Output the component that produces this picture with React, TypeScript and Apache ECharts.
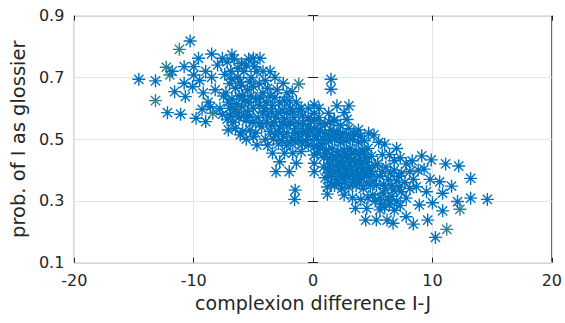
import React, { useEffect, useRef } from "react";
import * as echarts from "echarts";

const xTicks = [-20, -10, 0, 10, 20];
const yTicks = [0.1, 0.3, 0.5, 0.7, 0.9];

// complexion difference I-J vs prob. of I as glossier
const bluePoints: [number, number][] = [
  [-14.6, 0.694], [-13.2, 0.689], [-12.2, 0.586], [-11.1, 0.581], [-11.6, 0.654],
  [-10.8, 0.735], [-10.0, 0.735], [-9.6, 0.762], [-8.5, 0.776], [-10.8, 0.681],
  [-10.7, 0.638], [-9.8, 0.568], [-9.3, 0.597], [-9.0, 0.557], [-10.0, 0.708],
  [-10.1, 0.67], [-7.1, 0.53], [-6.1, 0.514], [-7.6, 0.762], [-6.8, 0.773],
  [-10.3, 0.818], [-11.8, 0.72], [-9.5, 0.69], [-9.2, 0.65], [-8.8, 0.62],
  [-9.0, 0.72], [-8.5, 0.70], [-8.0, 0.74], [-8.2, 0.66], [-7.8, 0.60],
  [-7.5, 0.64], [-8.6, 0.605],
  [-7.2, 0.75], [-6.6, 0.76], [-6.0, 0.745], [-5.4, 0.76], [-5.0, 0.762],
  [-4.45, 0.762], [-7.4, 0.71], [-6.9, 0.72], [-6.3, 0.70], [-5.8, 0.72],
  [-5.2, 0.70], [-4.7, 0.719], [-7.0, 0.68], [-6.5, 0.665], [-6.0, 0.675],
  [-5.5, 0.66], [-5.0, 0.67], [-7.3, 0.65], [-6.8, 0.63], [-6.2, 0.64],
  [-5.7, 0.625], [-5.2, 0.64], [-4.8, 0.63], [-7.6, 0.58], [-7.0, 0.60],
  [-6.6, 0.595], [-6.0, 0.605], [-5.5, 0.59], [-5.0, 0.60], [-4.5, 0.61],
  [-7.2, 0.565], [-6.7, 0.555], [-6.2, 0.57], [-5.6, 0.56], [-5.1, 0.555],
  [-4.6, 0.57], [-6.5, 0.535], [-5.9, 0.525], [-5.3, 0.53], [-4.8, 0.52],
  [-4.3, 0.54], [-5.6, 0.50], [-5.0, 0.508], [-4.7, 0.481], [-3.8, 0.481],
  [-4.0, 0.50],
  [-6.3, 0.73], [-5.6, 0.74], [-4.9, 0.735], [-4.2, 0.72], [-6.8, 0.695],
  [-6.1, 0.685], [-5.3, 0.685], [-4.5, 0.68], [-3.8, 0.665], [-7.1, 0.62],
  [-6.4, 0.615], [-5.9, 0.64], [-5.4, 0.62], [-4.4, 0.635], [-3.9, 0.62],
  [-3.2, 0.635], [-2.4, 0.625], [-6.9, 0.575], [-6.3, 0.585], [-5.8, 0.575],
  [-5.3, 0.575], [-4.2, 0.585], [-3.5, 0.59], [-2.9, 0.585], [-2.2, 0.585],
  [-1.7, 0.59], [-1.0, 0.60], [-4.5, 0.55], [-3.9, 0.555], [-3.3, 0.555],
  [-2.5, 0.555], [-1.9, 0.555], [-1.2, 0.55], [-0.2, 0.56], [-3.6, 0.525],
  [-2.9, 0.525], [-2.2, 0.52], [-1.5, 0.52], [-0.9, 0.525], [-0.2, 0.53],
  [-3.3, 0.50], [-2.6, 0.495], [-1.9, 0.49], [-1.2, 0.50], [-0.6, 0.495],
  [-3.6, 0.719], [-2.5, 0.681], [-1.75, 0.654], [-4.0, 0.69], [-3.2, 0.70],
  [-3.0, 0.66], [-2.2, 0.65], [-4.2, 0.65], [-3.6, 0.64], [-2.8, 0.62],
  [-2.0, 0.625], [-1.4, 0.62], [-4.1, 0.60], [-3.4, 0.61], [-2.6, 0.595],
  [-1.9, 0.60], [-1.2, 0.595], [-3.8, 0.575], [-3.1, 0.57], [-2.4, 0.565],
  [-1.6, 0.57], [-0.9, 0.575], [-3.5, 0.545], [-2.8, 0.54], [-2.1, 0.545],
  [-1.5, 0.535], [-0.8, 0.55], [-3.2, 0.515], [-2.5, 0.51], [-1.8, 0.505],
  [-1.2, 0.515], [-0.6, 0.52], [-2.9, 0.485], [-2.2, 0.48], [-1.5, 0.49],
  [-0.9, 0.485], [-2.8, 0.427], [-3.1, 0.395], [-2.0, 0.395], [-1.4, 0.422],
  [-1.5, 0.335], [-1.55, 0.305], [-2.4, 0.455], [-1.7, 0.455], [-1.0, 0.46],
  [-3.4, 0.455], [-0.4, 0.60], [-0.4, 0.57], [-0.4, 0.54], [-0.4, 0.51],
  [-0.4, 0.48],
  [0.1, 0.611], [0.1, 0.584], [0.1, 0.562], [0.1, 0.535], [0.1, 0.51],
  [0.1, 0.476], [0.1, 0.449], [0.1, 0.422], [0.1, 0.395],
  [0.5, 0.60], [0.5, 0.57], [0.6, 0.55], [0.3, 0.50], [0.4, 0.52],
  [0.3, 0.48], [0.35, 0.455], [0.8, 0.485],
  [1.5, 0.694], [1.5, 0.662], [1.3, 0.584], [2.0, 0.608], [3.0, 0.608],
  [2.6, 0.586], [2.85, 0.564], [1.75, 0.562], [3.0, 0.535], [3.8, 0.53],
  [4.65, 0.519], [5.1, 0.514], [6.0, 0.484], [7.0, 0.47],
  [1.8, 0.56], [2.3, 0.545], [1.0, 0.55], [1.4, 0.555], [3.5, 0.515], [4.0, 0.51],
  [0.6, 0.53], [1.0, 0.52], [1.5, 0.53], [2.0, 0.525], [2.5, 0.52],
  [0.8, 0.50], [1.3, 0.495], [1.8, 0.50], [2.3, 0.49], [2.8, 0.495],
  [3.3, 0.50], [3.8, 0.49], [4.3, 0.495], [0.6, 0.47], [1.1, 0.465],
  [1.6, 0.47], [2.1, 0.46], [2.6, 0.465], [3.1, 0.47], [3.6, 0.46],
  [4.1, 0.465], [4.6, 0.47], [0.9, 0.44], [1.4, 0.435], [1.9, 0.44],
  [2.4, 0.43], [2.9, 0.44], [3.4, 0.435], [3.9, 0.43], [4.4, 0.44],
  [4.9, 0.445], [0.9, 0.41], [1.2, 0.405], [1.7, 0.41], [2.2, 0.40],
  [2.7, 0.405], [3.2, 0.41], [3.7, 0.40], [4.2, 0.405], [4.7, 0.41],
  [5.2, 0.415], [1.0, 0.375], [1.5, 0.38], [2.0, 0.37], [2.5, 0.375],
  [3.0, 0.38], [3.5, 0.37], [4.0, 0.375], [4.5, 0.38], [5.0, 0.385],
  [1.2, 0.345], [1.8, 0.35], [2.4, 0.34], [3.0, 0.345], [3.6, 0.35],
  [4.2, 0.34], [4.8, 0.35], [1.2, 0.322], [2.6, 0.319], [3.55, 0.276],
  [4.5, 0.276], [4.4, 0.238], [3.3, 0.31], [4.0, 0.305],
  [1.3, 0.51], [1.8, 0.515], [2.3, 0.505], [2.8, 0.51], [3.4, 0.52],
  [1.0, 0.455], [1.6, 0.45], [2.2, 0.445], [2.7, 0.45], [3.2, 0.455],
  [3.8, 0.45], [4.3, 0.455], [1.4, 0.42], [2.0, 0.42], [2.5, 0.415],
  [3.0, 0.425], [3.5, 0.42], [4.0, 0.42], [4.5, 0.425], [1.3, 0.39],
  [1.8, 0.395], [2.3, 0.385], [2.8, 0.39], [3.3, 0.39], [3.8, 0.385],
  [4.3, 0.39], [4.8, 0.395], [1.5, 0.36], [2.1, 0.355], [2.7, 0.36],
  [3.3, 0.36], [3.9, 0.36], [4.5, 0.36], [5.1, 0.365],
  [5.5, 0.49], [6.4, 0.45], [5.8, 0.45], [7.3, 0.44], [6.8, 0.43],
  [7.8, 0.42], [8.3, 0.43], [5.4, 0.42], [6.1, 0.41], [6.8, 0.40],
  [7.4, 0.39], [8.1, 0.395], [8.8, 0.40], [5.6, 0.38], [6.3, 0.37],
  [7.0, 0.365], [7.7, 0.36], [8.4, 0.37], [5.3, 0.35], [6.0, 0.34],
  [6.7, 0.335], [7.4, 0.33], [8.1, 0.34], [5.6, 0.31], [6.3, 0.305],
  [7.0, 0.30], [7.8, 0.309], [8.65, 0.346], [5.3, 0.238], [5.6, 0.271],
  [6.2, 0.238], [6.7, 0.228], [7.8, 0.249], [8.4, 0.225], [8.9, 0.287],
  [6.0, 0.28], [6.8, 0.27], [7.3, 0.285], [5.2, 0.30],
  [5.8, 0.395], [6.5, 0.39], [7.2, 0.38], [5.9, 0.355], [6.6, 0.35],
  [7.2, 0.345], [5.0, 0.32], [5.9, 0.325], [6.6, 0.315], [4.6, 0.31],
  [5.7, 0.29], [6.4, 0.29],
  [9.1, 0.446], [9.9, 0.433], [9.3, 0.403], [11.1, 0.42], [12.2, 0.413],
  [13.2, 0.373], [10.6, 0.362], [11.6, 0.348], [10.85, 0.325], [12.1, 0.298],
  [13.2, 0.309], [14.6, 0.305], [10.85, 0.268], [10.0, 0.294], [9.6, 0.238],
  [10.25, 0.182], [9.5, 0.33], [9.8, 0.37],
];

const tealPoints: [number, number][] = [
  [-11.2, 0.791], [-12.3, 0.733], [-12.0, 0.708], [-13.2, 0.625], [-8.4, 0.584],
  [-1.2, 0.679], [11.2, 0.208], [12.3, 0.273],
];

const STAR = "path://M10,0L10,20M0,10L20,10M2.93,2.93L17.07,17.07M2.93,17.07L17.07,2.93";
const FONT = "DejaVu Sans";

export default function App() {
  const ref = useRef<HTMLDivElement>(null);
  useEffect(() => {
    if (!ref.current) return;
    const chart = echarts.init(ref.current, undefined, { renderer: "svg" });
    const axisLabel = { color: "#262626", fontSize: 16, fontFamily: FONT };
    const starSeries = (data: [number, number][], color: string) => ({
      type: "scatter",
      data,
      symbol: STAR,
      symbolSize: 13,
      itemStyle: { color, borderColor: color, borderWidth: 1.4, opacity: 1 },
      emphasis: { disabled: true },
    });
    chart.setOption({
      animation: false,
      backgroundColor: "#ffffff",
      grid: {
        left: 72,
        right: 9.5,
        top: 15.7,
        bottom: 60.3,
        show: true,
        borderColor: "#262626",
        borderWidth: 1,
        backgroundColor: "transparent",
      },
      xAxis: [
        {
          type: "value",
          min: xTicks[0],
          max: xTicks[xTicks.length - 1],
          interval: 10,
          name: "complexion difference I-J",
          nameLocation: "middle",
          nameGap: 25,
          nameTextStyle: { color: "#262626", fontSize: 19, fontFamily: FONT },
          axisLine: { show: false },
          axisTick: { show: true, inside: true, length: 5, lineStyle: { color: "#262626" } },
          axisLabel: { ...axisLabel, margin: 10 },
          splitLine: { show: true, lineStyle: { color: "#e5e5e5", width: 1 } },
        },
        {
          type: "value",
          position: "top",
          min: xTicks[0],
          max: xTicks[xTicks.length - 1],
          interval: 10,
          axisLine: { show: false },
          axisTick: { show: true, inside: true, length: 5, lineStyle: { color: "#262626" } },
          axisLabel: { show: false },
          splitLine: { show: false },
        },
      ],
      yAxis: [
        {
          type: "value",
          min: yTicks[0],
          max: yTicks[yTicks.length - 1],
          interval: 0.2,
          name: "prob. of I as glossier",
          nameLocation: "middle",
          nameGap: 42,
          nameTextStyle: { color: "#262626", fontSize: 19.5, fontFamily: FONT },
          axisLine: { show: false },
          axisTick: { show: true, inside: true, length: 5, lineStyle: { color: "#262626" } },
          axisLabel: { ...axisLabel, margin: 10, formatter: (v: number) => v.toFixed(1) },
          splitLine: { show: true, lineStyle: { color: "#e5e5e5", width: 1 } },
        },
        {
          type: "value",
          position: "right",
          min: yTicks[0],
          max: yTicks[yTicks.length - 1],
          interval: 0.2,
          axisLine: { show: false },
          axisTick: { show: true, inside: true, length: 5, lineStyle: { color: "#262626" } },
          axisLabel: { show: false },
          splitLine: { show: false },
        },
      ],
      series: [starSeries(tealPoints, "#2f8291"), starSeries(bluePoints, "#0072BD")],
    });
    return () => chart.dispose();
  }, []);
  return <div ref={ref} style={{ width: 565, height: 323, position: "absolute", left: 0, top: 0 }} />;
}
